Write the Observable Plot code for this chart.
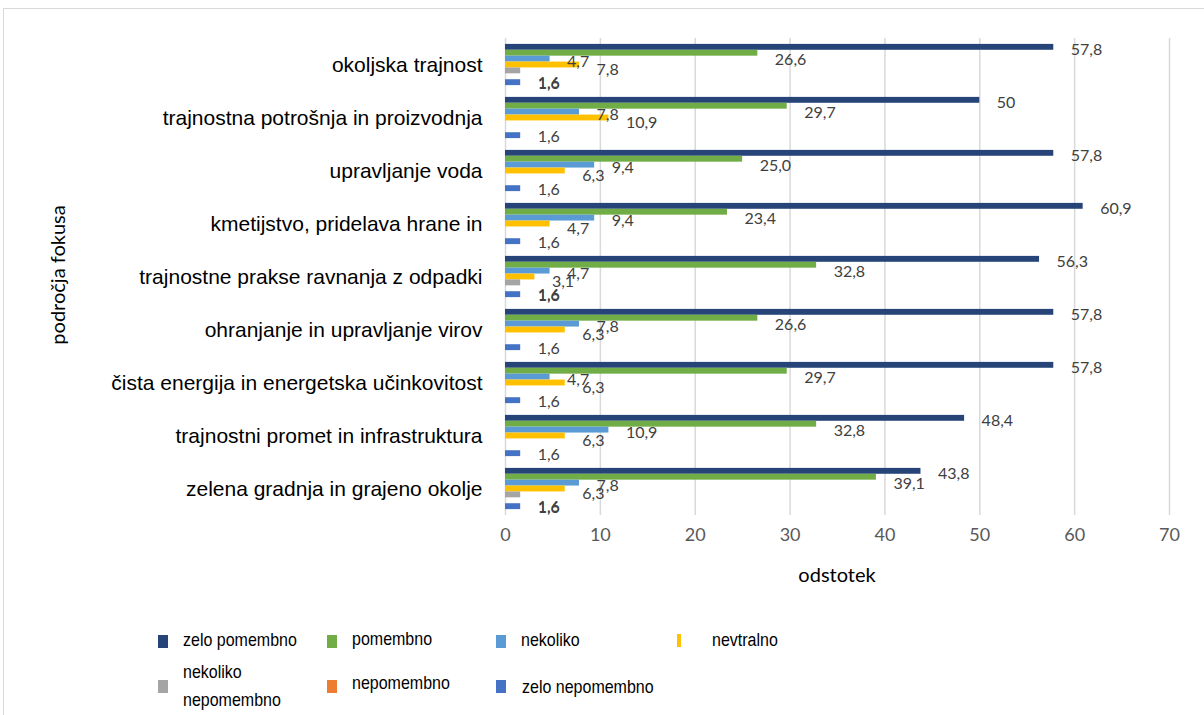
<!DOCTYPE html>
<html><head><meta charset="utf-8">
<script src="https://cdn.jsdelivr.net/npm/d3@7"></script>
<script src="https://cdn.jsdelivr.net/npm/@observablehq/plot@0.6"></script>
<style>
body{margin:0;background:#fff;}
#wrap{position:relative;width:1204px;height:715px;overflow:hidden;background:#fff;}
#frame{position:absolute;left:3px;top:8px;width:1210px;height:720px;border:1px solid #d9d9d9;box-sizing:border-box;}
#chart{position:absolute;left:0;top:0;}
.axt{position:absolute;font-family:Lato,"Open Sans",sans-serif;font-size:20px;color:#000;white-space:nowrap;}
.leg{position:absolute;font-family:"Liberation Sans",Arial,sans-serif;font-size:16px;color:#000;white-space:nowrap;line-height:24px;}
.sw{position:absolute;}
</style></head>
<body><div id="wrap"><div id="frame"></div><div id="chart"></div></div>
<script>
const categories = [
  "okoljska trajnost",
  "trajnostna potrošnja in proizvodnja",
  "upravljanje voda",
  "kmetijstvo, pridelava hrane in",
  "trajnostne prakse ravnanja z odpadki",
  "ohranjanje in upravljanje virov",
  "čista energija in energetska učinkovitost",
  "trajnostni promet in infrastruktura",
  "zelena gradnja in grajeno okolje"
];
const seriesNames = ["zelo pomembno","pomembno","nekoliko","nevtralno","nekoliko nepomembno","nepomembno","zelo nepomembno"];
const seriesColors = ["#264478","#70AD47","#5B9BD5","#FFC000","#A5A5A5","#ED7D31","#4472C4"];
const zeloPomembno       = [57.8, 50, 57.8, 60.9, 56.3, 57.8, 57.8, 48.4, 43.8];
const pomembno           = [26.6, 29.7, 25.0, 23.4, 32.8, 26.6, 29.7, 32.8, 39.1];
const nekoliko           = [4.7, 7.8, 9.4, 9.4, 4.7, 7.8, 4.7, 10.9, 7.8];
const nevtralno          = [7.8, 10.9, 6.3, 4.7, 3.1, 6.3, 6.3, 6.3, 6.3];
const nekolikoNepomembno = [1.6, 0, 0, 0, 1.6, 0, 0, 0, 1.6];
const nepomembno         = [0, 0, 0, 0, 0, 0, 0, 0, 0];
const zeloNepomembno     = [1.6, 1.6, 1.6, 1.6, 1.6, 1.6, 1.6, 1.6, 1.6];
const seriesValues = [zeloPomembno, pomembno, nekoliko, nevtralno, nekolikoNepomembno, nepomembno, zeloNepomembno];
const xTicks = [0, 10, 20, 30, 40, 50, 60, 70];
const xLabel = "odstotek";
const yLabel = "področja fokusa";
const labelDy = [3, 7, 3, 5, 0, 0, 1];

const key = (c, s) => c + "|" + s;
const data = [];
categories.forEach((c, i) => seriesNames.forEach((s, j) => data.push({category: c, series: s, value: seriesValues[j][i]})));
const yDomain = [];
categories.forEach(c => { yDomain.push(key(c, "_a")); seriesNames.forEach(s => yDomain.push(key(c, s))); yDomain.push(key(c, "_b")); });
const fmt = v => (v === 50 ? "50" : v.toFixed(1).replace(".", ","));
// the "nekoliko nepomembno" labels sit where Excel stacked them, on the "zelo nepomembno" label row
const labelRow = s => (s === "nekoliko nepomembno" ? "zelo nepomembno" : s);

const marks = [
  Plot.ruleX(xTicks, {x: d => d, stroke: "#d9d9d9", strokeWidth: 1.5}),
  Plot.barX(data.filter(d => d.value > 0), {x: "value", y: d => key(d.category, d.series), fill: "series"}),
  Plot.text(xTicks, {x: d => d, frameAnchor: "bottom", dy: 25, text: d => String(d), fontSize: 18, fill: "#595959", fontFamily: "Lato"}),
  Plot.text(categories, {y: d => key(d, seriesNames[3]), frameAnchor: "left", dx: -23, textAnchor: "end", text: d => d, fontSize: 21, fill: "#000", fontFamily: "Liberation Sans"})
];
seriesNames.forEach((s, j) => {
  marks.push(Plot.text(data.filter(d => d.series === s && d.value > 0), {
    x: "value", y: d => key(d.category, labelRow(d.series)), text: d => fmt(d.value),
    dx: 17, dy: labelDy[j], textAnchor: "start", fontSize: 16, fill: "#404040", fontFamily: "Lato"
  }));
});

const chart = Plot.plot({
  width: 1204, height: 600,
  marginLeft: 505, marginRight: 35, marginTop: 38, marginBottom: 85,
  x: {domain: [0, 70], axis: null},
  y: {domain: yDomain, axis: null, padding: 0},
  color: {domain: seriesNames, range: seriesColors},
  style: {background: "transparent", fontFamily: "Lato", overflow: "visible"},
  marks
});
const wrap = document.getElementById("wrap");
document.getElementById("chart").appendChild(chart);

const xl = document.createElement("div");
xl.className = "axt"; xl.textContent = xLabel;
xl.style.left = "837px"; xl.style.top = "574px"; xl.style.transform = "translate(-50%,-50%)";
wrap.appendChild(xl);
const yl = document.createElement("div");
yl.className = "axt"; yl.textContent = yLabel;
yl.style.left = "57px"; yl.style.top = "275px"; yl.style.transform = "translate(-50%,-50%) rotate(-90deg)";
wrap.appendChild(yl);

// legend
const legPos = [
  {sx: 158, sy: 635, w: 10, tx: 183, ty: 640},
  {sx: 327, sy: 635, w: 10, tx: 352, ty: 639},
  {sx: 496, sy: 635, w: 10, tx: 521, ty: 640},
  {sx: 677, sy: 634, w: 4,  tx: 712, ty: 640},
  {sx: 158, sy: 680, w: 10, tx: 183, ty: 686},
  {sx: 327, sy: 680, w: 10, tx: 352, ty: 683},
  {sx: 496, sy: 680, w: 10, tx: 522, ty: 687}
];
seriesNames.forEach((s, j) => {
  const p = legPos[j];
  const sw = document.createElement("div");
  sw.className = "sw";
  sw.style.left = p.sx + "px"; sw.style.top = p.sy + "px";
  sw.style.width = p.w + "px"; sw.style.height = "13px"; sw.style.background = seriesColors[j];
  wrap.appendChild(sw);
  const t = document.createElement("div");
  t.className = "leg";
  if (s === "nekoliko nepomembno") t.innerHTML = "nekoliko<br>nepomembno";
  else t.textContent = s;
  t.style.left = p.tx + "px"; t.style.top = p.ty + "px";
  t.style.transformOrigin = "left center";
  t.style.transform = "translateY(-50%) scaleY(1.18)";
  wrap.appendChild(t);
});
</script>
</body></html>
